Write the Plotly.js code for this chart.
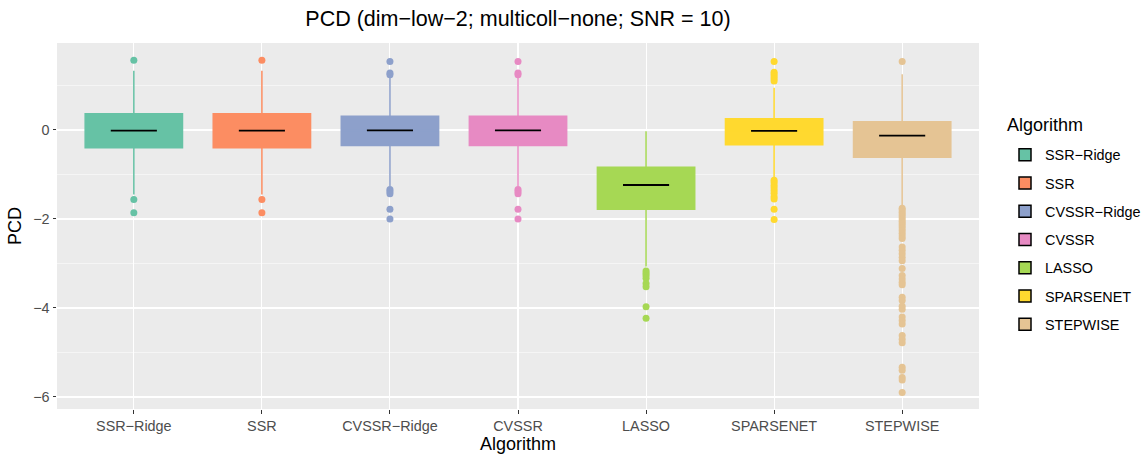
<!DOCTYPE html>
<html>
<head>
<meta charset="utf-8">
<script src="https://cdn.plot.ly/plotly-3.0.1.min.js"></script>
<style>html,body{margin:0;padding:0;background:#fff;}</style>
</head>
<body>
<div id="chart" style="width:1141px;height:455px;"></div>
<script>
const categories = ["SSR\u2212Ridge", "SSR", "CVSSR\u2212Ridge", "CVSSR", "LASSO", "SPARSENET", "STEPWISE"];
const colors = ["#66C2A5", "#FC8D62", "#8DA0CB", "#E78AC3", "#A6D854", "#FFD92F", "#E5C494"];

const q1Values = [-0.40, -0.40, -0.35, -0.35, -1.78, -0.33, -0.61];
const medianValues = [-0.015, -0.015, -0.01, -0.01, -1.236, -0.022, -0.127];
const q3Values = [0.367, 0.367, 0.307, 0.307, -0.84, 0.254, 0.187];
const lowerWhisker = [-1.45, -1.45, -1.27, -1.27, -3.07, -1.09, -1.74];
const upperWhisker = [1.33, 1.33, 1.20, 1.20, -0.03, 0.95, 1.25];

const outliersSSRRidge = [1.57, -1.56, -1.86];
const outliersSSR = [1.57, -1.56, -1.86];
const outliersCVSSRRidge = [1.54, 1.28, 1.24, -1.34, -1.38, -1.43, -1.78, -2.00];
const outliersCVSSR = [1.54, 1.28, 1.24, -1.34, -1.38, -1.43, -1.78, -2.00];
const outliersLASSO = [-3.17, -3.22, -3.27, -3.33, -3.45, -3.52, -3.97, -4.23];
const outliersSPARSENET = [1.54, 1.30, 1.25, 1.20, 1.15, 1.10, -1.13, -1.18, -1.24, -1.30, -1.36, -1.42, -1.50, -1.55, -1.78, -2.01];
const outliersSTEPWISE = [1.54, -1.76, -1.80, -1.85, -1.90, -1.95, -2.00, -2.05, -2.10, -2.15, -2.20, -2.26, -2.32, -2.38, -2.44,
  -2.63, -2.70, -2.78, -2.86, -2.94, -3.11, -3.27, -3.35, -3.42, -3.48, -3.76, -3.83, -3.96, -4.03,
  -4.20, -4.28, -4.36, -4.62, -4.70, -4.78, -5.33, -5.40, -5.56, -5.62, -5.90];
const outlierLists = [outliersSSRRidge, outliersSSR, outliersCVSSRRidge, outliersCVSSR, outliersLASSO, outliersSPARSENET, outliersSTEPWISE];

const yTickVals = [-6, -4, -2, 0];

const FONT = "Liberation Sans, Arial, Helvetica, sans-serif";
const traces = [];

categories.forEach((cat, i) => {
  traces.push({
    type: "box", x: [cat],
    q1: [q1Values[i]], median: [medianValues[i]], q3: [q3Values[i]],
    lowerfence: [lowerWhisker[i]], upperfence: [upperWhisker[i]],
    fillcolor: colors[i], line: {color: colors[i], width: 1.5},
    whiskerwidth: 0, width: 0.76, boxpoints: false, showlegend: false, hoverinfo: "skip"
  });
  traces.push({
    type: "scatter", mode: "markers", x: outlierLists[i].map(() => cat), y: outlierLists[i],
    marker: {color: colors[i], size: 7}, showlegend: false, hoverinfo: "y"
  });
  traces.push({
    type: "box", x: [cat],
    q1: [medianValues[i]], median: [medianValues[i]], q3: [medianValues[i]],
    lowerfence: [medianValues[i]], upperfence: [medianValues[i]],
    fillcolor: "rgba(0,0,0,0)", line: {color: "#000000", width: 1.8},
    whiskerwidth: 0, width: 0.36, boxpoints: false, showlegend: false, hoverinfo: "skip"
  });
});
categories.forEach((cat, i) => {
  traces.push({
    type: "box", x: [cat], name: cat, legendgroup: "g" + i,
    q1: [100], median: [100.5], q3: [101], lowerfence: [99], upperfence: [102],
    fillcolor: colors[i], line: {color: "#000000", width: 1.5},
    boxpoints: false, showlegend: true, hoverinfo: "skip"
  });
});

const layout = {
  width: 1141, height: 455,
  margin: {l: 57, r: 162, t: 43, b: 46},
  paper_bgcolor: "#FFFFFF", plot_bgcolor: "#EBEBEB",
  font: {family: FONT, color: "#000000"},
  boxmode: "overlay",
  title: {text: "PCD (dim\u2212low\u22122; multicoll\u2212none; SNR = 10)", font: {size: 21.5, color: "#000"},
    x: 518 / 1141, xanchor: "center", y: 1 - 18 / 455, yanchor: "middle"},
  xaxis: {
    type: "category", categoryorder: "array", categoryarray: categories,
    range: [-0.6, 6.6], showgrid: true, gridcolor: "#FFFFFF", gridwidth: 1.1,
    zeroline: false, showline: false, automargin: false,
    ticks: "outside", ticklen: 3.5, tickcolor: "#333333", tickwidth: 1,
    tickfont: {size: 14.4, color: "#4D4D4D", family: FONT},
    title: {text: "Algorithm", font: {size: 18, color: "#000"}, standoff: 2}
  },
  yaxis: {
    range: [-6.27, 1.955], tickvals: yTickVals, ticktext: yTickVals.map(v => v < 0 ? "\u2212" + Math.abs(v) : String(v)),
    showgrid: true, gridcolor: "#FFFFFF", gridwidth: 1.1, zeroline: false, showline: false, automargin: false,
    minor: {tickvals: [-5, -3, -1, 1], showgrid: true, gridcolor: "#FFFFFF", gridwidth: 0.5, ticks: ""},
    ticks: "outside", ticklen: 3.5, tickcolor: "#333333", tickwidth: 1,
    tickfont: {size: 14.4, color: "#4D4D4D", family: FONT},
    title: {text: "PCD", font: {size: 18, color: "#000"}, standoff: 6}
  },
  legend: {
    xref: "container", yref: "container",
    x: 1005 / 1141, xanchor: "left", y: 1 - 240 / 455, yanchor: "middle",
    font: {size: 14.4, color: "#000", family: FONT},
    tracegroupgap: 6.5, bgcolor: "rgba(0,0,0,0)"
  },
  annotations: [{
    xref: "paper", yref: "paper", x: (1005 - 57) / 922, y: (409 - 125) / 366,
    xanchor: "left", yanchor: "middle", showarrow: false,
    text: "Algorithm", font: {size: 18, color: "#000", family: FONT}
  }],
  showlegend: true
};

Plotly.newPlot("chart", traces, layout, {displayModeBar: false, staticPlot: true});
</script>
</body>
</html>
